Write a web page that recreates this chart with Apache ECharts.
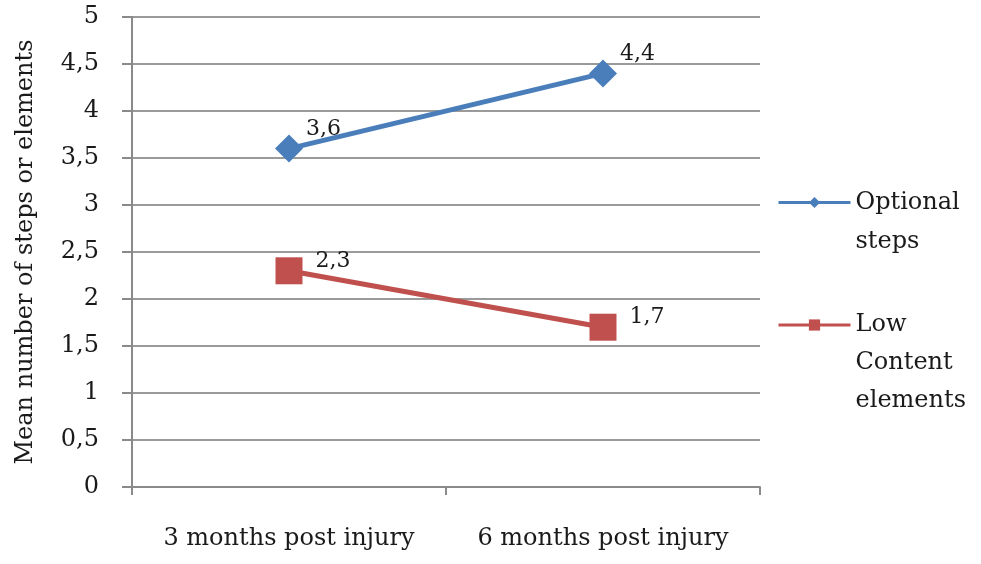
<!DOCTYPE html>
<html>
<head>
<meta charset="utf-8">
<script src="https://cdn.jsdelivr.net/npm/echarts@6/dist/echarts.min.js"></script>
<style>html,body{margin:0;padding:0;background:#fff}#c{width:981px;height:564px}</style>
</head>
<body>
<div id="c"></div>
<script>
const categories = ['3 months post injury', '6 months post injury'];
const optionalSteps = [3.6, 4.4];
const lowContent = [2.3, 1.7];
const yTicks = [0, 0.5, 1, 1.5, 2, 2.5, 3, 3.5, 4, 4.5, 5];
const seriesNames = ['Optional steps', 'Low Content elements'];
const legendLines = [['Optional', 'steps'], ['Low', 'Content', 'elements']];
const yAxisName = 'Mean number of steps or elements';

const FONT = 'DejaVu Serif';
const TXT = '#1a1a1a';
const fmt = v => String(v).replace('.', ',');
// pad with blank lines above so the legend icon sits beside the first text line
const legendText = lines => Array(lines.length - 1).fill(' ').concat(lines).join('\n');

const chart = echarts.init(document.getElementById('c'));
chart.setOption({
  animation: false,
  backgroundColor: '#fff',
  grid: { left: 132, right: 221, top: 17, bottom: 77 },
  xAxis: {
    type: 'category',
    data: categories,
    boundaryGap: true,
    axisLine: { lineStyle: { color: '#8a8a8a', width: 2 } },
    axisTick: { show: true, interval: 0, length: 8, lineStyle: { color: '#8a8a8a', width: 2 } },
    axisLabel: { interval: 0, hideOverlap: false, margin: 40, fontFamily: FONT, fontSize: 24, color: TXT }
  },
  yAxis: {
    type: 'value',
    min: yTicks[0],
    max: yTicks[yTicks.length - 1],
    interval: yTicks[1] - yTicks[0],
    name: yAxisName,
    nameLocation: 'middle',
    nameGap: 94,
    nameTextStyle: { fontFamily: FONT, fontSize: 24, color: TXT },
    axisLine: { show: true, lineStyle: { color: '#8a8a8a', width: 2 } },
    axisTick: { show: true, length: 10, lineStyle: { color: '#8a8a8a', width: 2 } },
    splitLine: { show: true, lineStyle: { color: '#9a9a9a', width: 2 } },
    axisLabel: { margin: 33, fontFamily: FONT, fontSize: 24, color: TXT, formatter: fmt }
  },
  legend: [
    {
      data: [seriesNames[0]], orient: 'vertical', left: 777, top: 144, padding: 0,
      itemWidth: 72, itemHeight: 14, selectedMode: false,
      formatter: () => legendText(legendLines[0]),
      lineStyle: { width: 3 },
      textStyle: { fontFamily: FONT, fontSize: 24, color: TXT, lineHeight: 39 }
    },
    {
      data: [seriesNames[1]], orient: 'vertical', left: 777, top: 230, padding: 0,
      itemWidth: 72, itemHeight: 14, selectedMode: false,
      formatter: () => legendText(legendLines[1]),
      lineStyle: { width: 3 },
      textStyle: { fontFamily: FONT, fontSize: 24, color: TXT, lineHeight: 38 }
    }
  ],
  series: [
    {
      name: seriesNames[0], type: 'line', data: optionalSteps,
      symbol: 'diamond', symbolSize: 28,
      lineStyle: { color: '#4a7ebb', width: 5 },
      itemStyle: { color: '#4a7ebb' },
      label: { show: true, position: 'right', distance: 3, offset: [0, -19],
        fontFamily: FONT, fontSize: 22, color: TXT, formatter: p => fmt(p.value) }
    },
    {
      name: seriesNames[1], type: 'line', data: lowContent,
      symbol: 'rect', symbolSize: 27,
      lineStyle: { color: '#c0504d', width: 5 },
      itemStyle: { color: '#c0504d' },
      label: { show: true, position: 'right', distance: 13, offset: [0, -10],
        fontFamily: FONT, fontSize: 22, color: TXT, formatter: p => fmt(p.value) }
    }
  ]
});
</script>
</body>
</html>
